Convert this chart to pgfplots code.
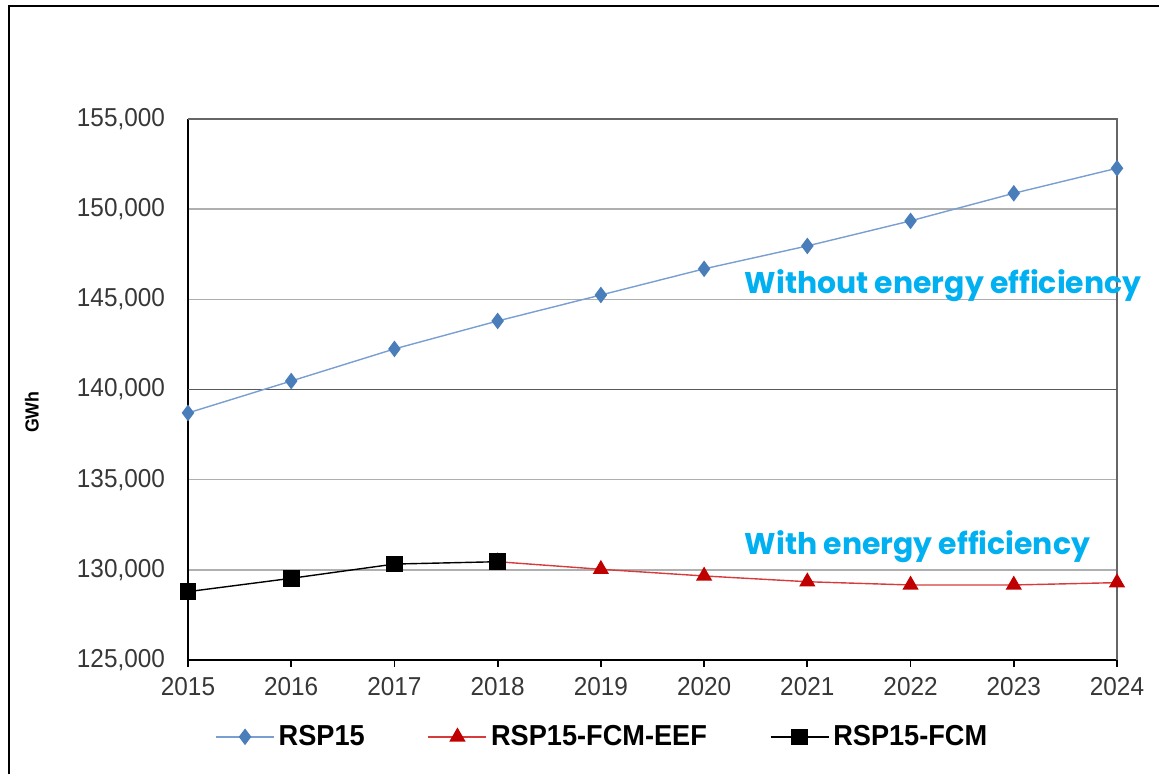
\documentclass[border=0pt]{standalone}
\usepackage{fontspec}
\setmainfont{Liberation Sans}[FakeStretch=0.94]
\newfontfamily\annfont{Poppins}
\usepackage{pgfplots}
\pgfplotsset{compat=1.18}
\definecolor{rspblue}{RGB}{74,126,187}
\definecolor{rspline}{RGB}{120,158,210}
\definecolor{eefred}{RGB}{192,0,0}
\definecolor{eefline}{RGB}{215,60,60}
\definecolor{anncyan}{RGB}{0,176,240}
\definecolor{ticktext}{RGB}{55,55,55}
\definecolor{gridgray}{RGB}{175,175,175}

\begin{document}
\begin{tikzpicture}
\useasboundingbox (0bp,0bp) rectangle (579.5bp,387bp);
% outer frame, cut by the page at right and bottom
\draw[line width=1.3bp] (4.5bp,-20bp) -- (4.5bp,384bp) -- (620bp,384bp);
\begin{axis}[
  at={(94bp,57bp)}, anchor=south west,
  scale only axis, width=464.5bp, height=270.5bp,
  xmin=2015, xmax=2024, ymin=125000, ymax=155000,
  xtick={2015,2016,...,2024},
  ytick={125000,130000,...,155000},
  scaled x ticks=false, scaled y ticks=false,
  /pgf/number format/assume math mode=true,
  xticklabel={\pgfmathprintnumber[fixed,precision=0,1000 sep=]{\tick}},
  yticklabel={\pgfmathprintnumber[fixed,precision=0,1000 sep={,}]{\tick}},
  axis x line*=bottom, axis y line*=left,
  axis line style={black, line width=1.1bp, -},
  x tick style={black, line width=0.9bp},
  y tick style={draw=none},
  tick align=outside, major tick length=3.5bp,
  ymajorgrids, grid style={gridgray, line width=0.7bp},
  ticklabel style={font=\fontsize{13}{15}\selectfont, text=ticktext},
  xticklabel style={yshift=-1.5bp},
  yticklabel style={xshift=-4.5bp},
  ylabel={GWh},
  every axis y label/.style={at={(axis description cs:-0.168,0.458)}, rotate=90, anchor=center, font=\bfseries\fontsize{9.5}{11}\selectfont},
  clip=false,
  legend columns=3,
  legend style={at={(0.447,-0.142)}, anchor=center, draw=none, fill=none,
    font=\bfseries\fontsize{14.5}{17}\selectfont,
    /tikz/every even column/.append style={column sep=29.5bp}},
  legend image code/.code={\draw[#1, mark repeat=2, mark phase=2] plot coordinates {(0bp,0bp) (14.5bp,0bp) (29bp,0bp)};},
]
\draw[gray!80!black, line width=0.8bp] (axis cs:2015,155000) -- (axis cs:2024,155000) -- (axis cs:2024,125000);
\draw[gray!70!black, line width=0.8bp] (axis cs:2015,140000) -- (axis cs:2024,140000);

\addplot[color=rspline, line width=0.7bp, mark=diamond*, mark size=3.6bp, mark options={fill=rspblue, draw=rspblue}]
  coordinates {(2015,138700) (2016,140470) (2017,142250) (2018,143800) (2019,145240)
               (2020,146690) (2021,147960) (2022,149350) (2023,150880) (2024,152270)};
\addlegendentry{RSP15}
\addplot[color=eefline, line width=0.7bp, mark=triangle*, mark size=4bp, mark options={fill=eefred, draw=eefred}]
  coordinates {(2018,130450) (2019,130030) (2020,129660) (2021,129340) (2022,129160)
               (2023,129160) (2024,129290)};
\addlegendentry{RSP15-FCM-EEF}
\addplot[color=black, line width=0.7bp, mark=square*, mark size=3.8bp, mark options={fill=black}]
  coordinates {(2015,128790) (2016,129530) (2017,130320) (2018,130450)};
\addlegendentry{RSP15-FCM}

\node[anchor=base west, inner sep=0pt, text=anncyan, font=\annfont\bfseries\fontsize{15}{18}\selectfont]
  at (axis cs:2020.39,145330) {Without energy efficiency};
\node[anchor=base west, inner sep=0pt, text=anncyan, font=\annfont\bfseries\fontsize{15}{18}\selectfont]
  at (axis cs:2020.39,130830) {With energy efficiency};
\end{axis}
\end{tikzpicture}
\end{document}
